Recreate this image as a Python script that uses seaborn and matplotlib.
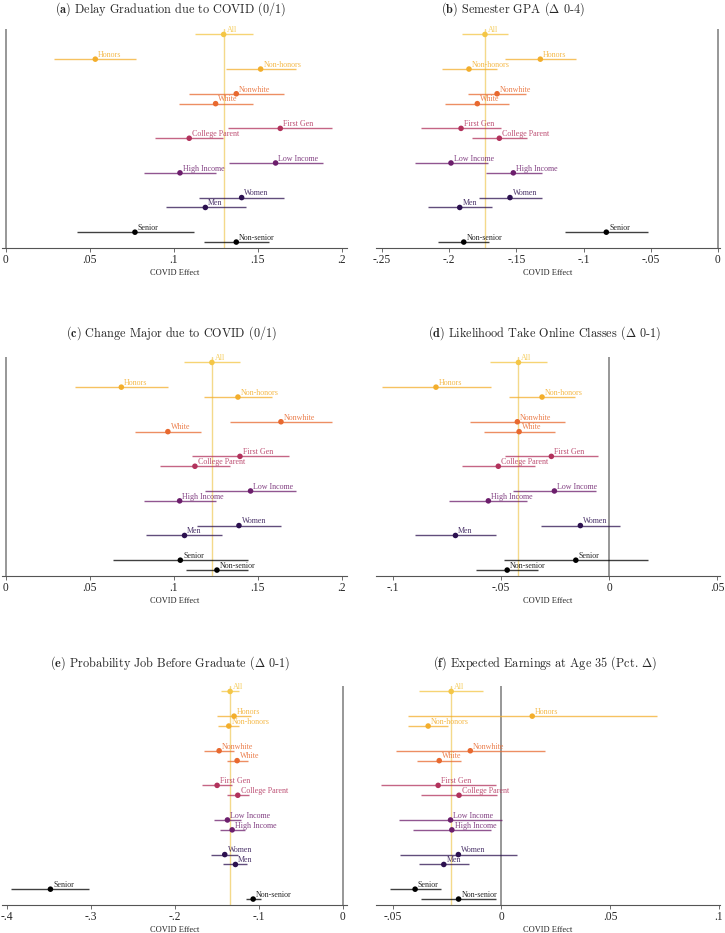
import numpy as np
import pandas as pd
import matplotlib
matplotlib.use("Agg")
import matplotlib.pyplot as plt
import seaborn as sns
from matplotlib.ticker import FuncFormatter

sns.set_theme(style="white")
plt.rcParams['font.family'] = ['Liberation Serif', 'DejaVu Serif']
plt.rcParams['mathtext.fontset'] = 'cm'

# subgroups, top to bottom
labels = ["All", "Honors", "Non-honors", "Nonwhite", "White", "First Gen", "College Parent",
          "Low Income", "High Income", "Women", "Men", "Senior", "Non-senior"]
groups = ["all", "honors", "honors", "race", "race", "firstgen", "firstgen",
          "income", "income", "gender", "gender", "senior", "senior"]

# (a) delay graduation
delay_est = [0.1296, 0.0532, 0.1516, 0.1371, 0.1248, 0.1633, 0.1091, 0.1605, 0.1036, 0.1403, 0.1187, 0.0768, 0.1371]
delay_lo = [0.1125, 0.0288, 0.1308, 0.1087, 0.1032, 0.1321, 0.0889, 0.1327, 0.0821, 0.1149, 0.0952, 0.0421, 0.1179]
delay_hi = [0.1468, 0.0774, 0.1724, 0.1655, 0.1468, 0.1940, 0.1294, 0.1885, 0.1248, 0.1655, 0.1427, 0.1117, 0.1563]

# (b) semester GPA
gpa_est = [-0.1734, -0.1322, -0.1853, -0.1644, -0.1791, -0.1912, -0.1627, -0.1987, -0.1523, -0.1548, -0.1922, -0.0831, -0.1892]
gpa_lo = [-0.1905, -0.1587, -0.2054, -0.1860, -0.2029, -0.2207, -0.1828, -0.2257, -0.1729, -0.1781, -0.2160, -0.1141, -0.2081]
gpa_hi = [-0.1565, -0.1059, -0.1647, -0.1429, -0.1553, -0.1615, -0.1424, -0.1714, -0.1312, -0.1312, -0.1679, -0.0523, -0.1701]

# (c) change major
major_est = [0.1226, 0.0687, 0.1381, 0.1637, 0.0964, 0.1393, 0.1125, 0.1456, 0.1034, 0.1387, 0.1063, 0.1038, 0.1256]
major_lo = [0.1060, 0.0413, 0.1181, 0.1333, 0.0770, 0.1105, 0.0919, 0.1187, 0.0821, 0.1139, 0.0835, 0.0637, 0.1069]
major_hi = [0.1393, 0.0962, 0.1581, 0.1940, 0.1161, 0.1687, 0.1331, 0.1724, 0.1248, 0.1639, 0.1288, 0.1438, 0.1438]

# (d) online classes
online_est = [-0.0419, -0.0800, -0.0310, -0.0424, -0.0416, -0.0267, -0.0512, -0.0253, -0.0558, -0.0133, -0.0710, -0.0154, -0.0471]
online_lo = [-0.0550, -0.1051, -0.0462, -0.0644, -0.0579, -0.0479, -0.0678, -0.0444, -0.0738, -0.0314, -0.0897, -0.0488, -0.0615]
online_hi = [-0.0288, -0.0545, -0.0159, -0.0203, -0.0251, -0.0052, -0.0344, -0.0062, -0.0378, 0.0049, -0.0524, 0.0179, -0.0328]

# (e) job before graduate
job_est = [-0.1341, -0.1294, -0.1357, -0.1472, -0.1258, -0.1496, -0.1250, -0.1373, -0.1317, -0.1405, -0.1278, -0.3480, -0.1067]
job_lo = [-0.1448, -0.1500, -0.1480, -0.1651, -0.1381, -0.1675, -0.1377, -0.1528, -0.1456, -0.1563, -0.1421, -0.3944, -0.1155]
job_hi = [-0.1234, -0.1095, -0.1234, -0.1290, -0.1131, -0.1317, -0.1119, -0.1214, -0.1159, -0.1246, -0.1135, -0.3016, -0.0972]

# (f) earnings at 35
earn_est = [-0.0231, 0.0142, -0.0337, -0.0143, -0.0286, -0.0291, -0.0195, -0.0234, -0.0228, -0.0198, -0.0265, -0.0397, -0.0197]
earn_lo = [-0.0377, -0.0432, -0.0431, -0.0483, -0.0388, -0.0552, -0.0369, -0.0471, -0.0409, -0.0466, -0.0377, -0.0511, -0.0371]
earn_hi = [-0.0085, 0.0714, -0.0245, 0.0200, -0.0185, -0.0026, -0.0020, 0.0005, -0.0046, 0.0072, -0.0151, -0.0278, -0.0023]

titles = [r"$\mathbf{(a)}$ Delay Graduation due to COVID (0/1)",
          r"$\mathbf{(b)}$ Semester GPA ($\Delta$ 0-4)",
          r"$\mathbf{(c)}$ Change Major due to COVID (0/1)",
          r"$\mathbf{(d)}$ Likelihood Take Online Classes ($\Delta$ 0-1)",
          r"$\mathbf{(e)}$ Probability Job Before Graduate ($\Delta$ 0-1)",
          r"$\mathbf{(f)}$ Expected Earnings at Age 35 (Pct. $\Delta$)"]

xticks = [[0, 0.05, 0.1, 0.15, 0.2],
          [-0.25, -0.2, -0.15, -0.1, -0.05, 0],
          [0, 0.05, 0.1, 0.15, 0.2],
          [-0.1, -0.05, 0, 0.05],
          [-0.4, -0.3, -0.2, -0.1, 0],
          [-0.05, 0, 0.05, 0.1]]

group_colors = {"all": "#f4c646", "honors": "#f3ae2c", "race": "#e8692f",
                "firstgen": "#b2325c", "income": "#6c1e6c", "gender": "#2c1150",
                "senior": "#000000"}
group_order = ["all", "honors", "race", "firstgen", "income", "gender", "senior"]


def y_positions(grps):
    ys, seen = [], {}
    for g in grps:
        gi = group_order.index(g)
        k = seen.get(g, 0)
        seen[g] = k + 1
        ys.append(0.0 if gi == 0 else 3.5 * gi - 1 + k)
    return ys


def stata_fmt(v, pos):
    if abs(v) < 1e-12:
        return "0"
    s = f"{v:g}"
    return s.replace("0.", ".")


panels = [
    (delay_est, delay_lo, delay_hi, (-0.0025, 0.203)),
    (gpa_est, gpa_lo, gpa_hi, (-0.2545, 0.0015)),
    (major_est, major_lo, major_hi, (-0.0025, 0.203)),
    (online_est, online_lo, online_hi, (-0.1077, 0.0512)),
    (job_est, job_lo, job_hi, (-0.406, 0.005)),
    (earn_est, earn_lo, earn_hi, (-0.0577, 0.1006)),
]

fig = plt.figure(figsize=(7.25, 9.33), dpi=100)
W, H = 725, 933
col_x = [(1.7, 347), (376, 720)]
row_top = [29, 357, 686]
title_cy = [9, 333, 663]
ax_h = 219
title_cx = [170.5, 512.5, 171, 545, 170, 545]

ys = y_positions(groups)

for i, (est, lo, hi, xlim) in enumerate(panels):
    r, c = divmod(i, 2)
    x0, x1 = col_x[c]
    ax = fig.add_axes([x0 / W, 1 - (row_top[r] + ax_h) / H, (x1 - x0) / W, ax_h / H])
    df = pd.DataFrame({"label": labels, "group": groups, "est": est,
                       "lo": lo, "hi": hi, "y": ys})

    ax.axvline(0, color="#8f8f8f", lw=1.3, zorder=1)
    ax.axvline(est[0], color="#f4d98a", lw=1.0, zorder=1)
    for _, row in df.iterrows():
        ax.hlines(row["y"], row["lo"], row["hi"], color=group_colors[row["group"]],
                  lw=1.0, alpha=0.75, zorder=2)
    sns.scatterplot(data=df, x="est", y="y", hue="group", palette=group_colors,
                    s=16, linewidth=0, legend=False, ax=ax, zorder=3)
    for _, row in df.iterrows():
        ax.annotate(row["label"], (row["est"], row["y"]), xytext=(2, 3),
                    textcoords="offset points", ha="left", va="center",
                    fontsize=5.8, color=group_colors[row["group"]], alpha=0.85)

    ax.set_ylim(21.6, -0.55)
    ax.set_yticks([])
    ax.set_ylabel("")
    ax.set_xlim(*xlim)
    ax.set_xticks(xticks[i])
    ax.xaxis.set_major_formatter(FuncFormatter(stata_fmt))
    ax.tick_params(axis="x", bottom=True, labelsize=8.3, length=3, width=0.6,
                   color="#555555", pad=1.5)
    ax.set_xlabel("COVID Effect", fontsize=6, labelpad=2)
    for s in ["left", "top", "right"]:
        ax.spines[s].set_visible(False)
    ax.spines["bottom"].set_color("#555555")
    ax.spines["bottom"].set_linewidth(0.8)

    fig.text(title_cx[i] / W, 1 - title_cy[r] / H, titles[i], ha="center", va="center",
             fontsize=8.8, family="cmr10")

fig.savefig("out.png", dpi=100, facecolor="white")
